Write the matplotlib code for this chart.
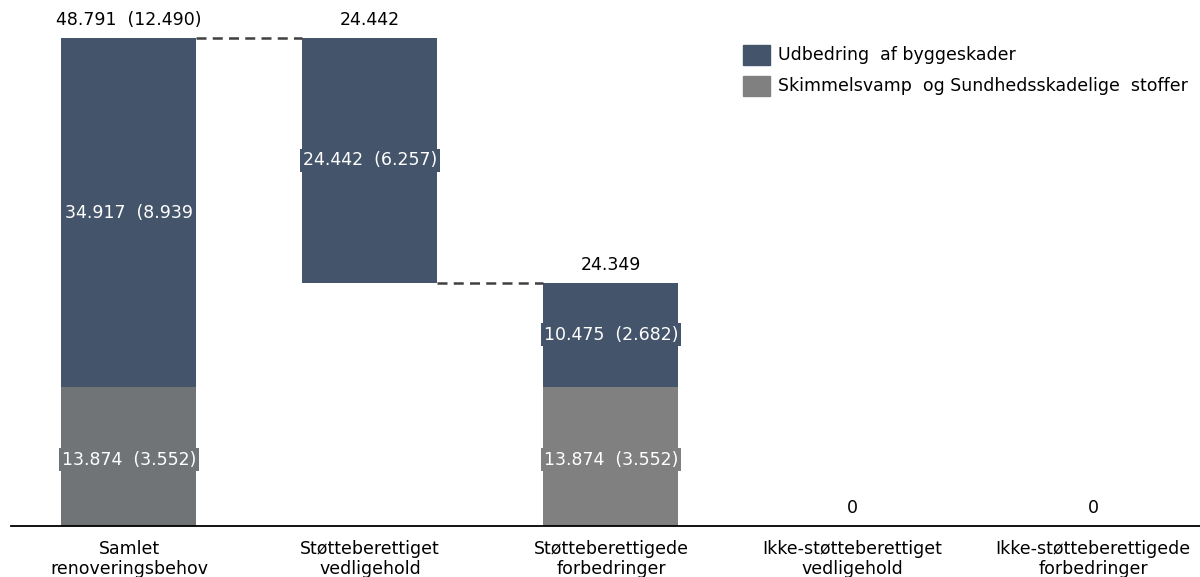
import matplotlib.pyplot as plt

categories = ["Samlet\nrenoveringsbehov", "Støtteberettiget\nvedligehold",
              "Støtteberettigede\nforbedringer", "Ikke-støtteberettiget\nvedligehold",
              "Ikke-støtteberettigede\nforbedringer"]
udbedring = [34917, 24442, 10475, 0, 0]
skimmel = [13874, 0, 13874, 0, 0]
top_labels = ["48.791  (12.490)", "24.442", "24.349", "0", "0"]
inner_udb = ["34.917  (8.939", "24.442  (6.257)", "10.475  (2.682)", "", ""]
inner_skim = ["13.874  (3.552)", "", "13.874  (3.552)", "", ""]

navy = "#44546a"
gray1 = "#717477"
gray = "#808080"

plt.rcParams['font.family'] = ['DejaVu Sans']
fig = plt.figure(figsize=(12, 5.77), dpi=100)
ax = fig.add_axes([0, 0, 1, 1])
ax.set_xlim(-0.535, 4.444)
ax.set_ylim(-5100, 52600)
ax.axis('off')

total = udbedring[0] + skimmel[0]
rest = udbedring[2] + skimmel[2]
# waterfall: bar 2 floats between bar 3 total and bar 1 total
bottoms_udb = [skimmel[0], rest, skimmel[2], 0, 0]
tops = [total, total, rest, 0, 0]
w = 0.56
x = list(range(len(categories)))

ax.bar(x, skimmel, width=w, color=[gray1, gray, gray, gray, gray])
ax.bar(x, udbedring, bottom=bottoms_udb, width=w, color=navy)

# dashed connectors
ax.plot([0 + w / 2, 1 - w / 2], [total, total], color="#404040", ls=(0, (4, 2.5)), lw=1.8)
ax.plot([1 + w / 2, 2 - w / 2], [rest, rest], color="#404040", ls=(0, (4, 2.5)), lw=1.8)

# baseline
ax.plot([-0.49, 4.444], [0, 0], color="black", lw=1.3, clip_on=False)

fs = 12.5
for i in x:
    ax.text(i, tops[i] + 1800, top_labels[i], ha='center', va='center', fontsize=fs, color="black")
    if inner_udb[i]:
        ax.text(i, bottoms_udb[i] + udbedring[i] / 2, inner_udb[i], ha='center', va='center',
                fontsize=fs, color="white",
                bbox=dict(boxstyle='square,pad=0.14', fc=navy, ec='none'))
    if inner_skim[i]:
        ax.text(i, skimmel[i] / 2 - 300, inner_skim[i], ha='center', va='center',
                fontsize=fs, color="white",
                bbox=dict(boxstyle='square,pad=0.14', fc=gray1 if i == 0 else gray, ec='none'))
    ax.text(i, -1450, categories[i], ha='center', va='top', fontsize=fs, color="black",
            linespacing=1.12)

# legend
leg_x = 743 / 1200
for k, (lab, col) in enumerate([("Udbedring  af byggeskader", navy),
                                 ("Skimmelsvamp  og Sundhedsskadelige  stoffer", gray)]):
    yc = 1 - (55 + 31 * k) / 577
    fig.patches.append(plt.Rectangle((leg_x, yc - 10 / 577), 27 / 1200, 20 / 577,
                                     transform=fig.transFigure, color=col))
    fig.text(778 / 1200, yc, lab, ha='left', va='center', fontsize=fs)

fig.savefig("out.png", dpi=100)
